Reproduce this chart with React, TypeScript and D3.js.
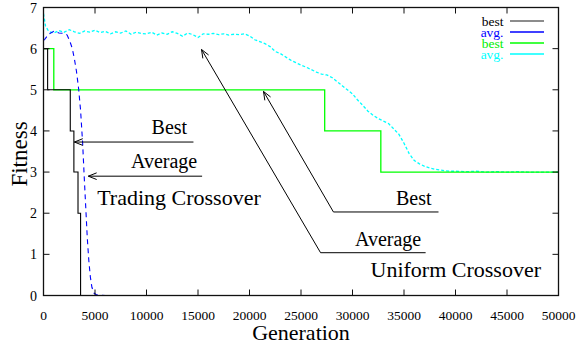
import React from 'react';
import * as d3 from 'd3';

// generation / fitness pairs
const tradingBest: [number, number][] = [
  [0, 6], [400, 5], [2600, 4], [2950, 3], [3350, 2], [3600, 0], [20000, 0],
];
const tradingAvg: [number, number][] = [
  [0, 6.2], [100, 6.22], [500, 6.35], [1000, 6.42], [1500, 6.38], [2000, 6.37],
  [2300, 6.33], [2600, 6.15], [2800, 6.0], [3000, 5.75], [3200, 5.45], [3400, 5.05],
  [3600, 4.5], [3800, 3.7], [3950, 2.9], [4100, 2.15], [4250, 1.4], [4400, 0.85],
  [4550, 0.45], [4700, 0.2], [4900, 0.06], [5200, 0.01], [6000, 0], [20000, 0],
];
const uniformBest: [number, number][] = [
  [0, 6], [1000, 5], [27300, 4], [32750, 3], [50000, 3],
];
const uniformAvg: [number, number][] = [
  [0, 6.85], [200, 6.55], [500, 6.42], [1000, 6.38], [1500, 6.44], [2000, 6.4],
  [2500, 6.46], [3000, 6.41], [3500, 6.37], [4000, 6.43], [4500, 6.4], [5000, 6.45],
  [5500, 6.39], [6000, 6.42], [6500, 6.36], [7000, 6.41], [7500, 6.38], [8000, 6.43],
  [8500, 6.35], [9000, 6.4], [9500, 6.37], [10000, 6.36], [10500, 6.4], [11000, 6.33],
  [11500, 6.38], [12000, 6.35], [12500, 6.41], [13000, 6.37], [13500, 6.3], [14000, 6.38],
  [14500, 6.34], [15000, 6.27], [15500, 6.36], [16000, 6.35], [16500, 6.37], [17000, 6.34],
  [17500, 6.36], [18000, 6.33], [18500, 6.35], [19000, 6.34], [19500, 6.36], [20000, 6.31],
  [20500, 6.22], [21000, 6.17], [21500, 6.12], [22000, 6.05], [22500, 5.93], [23000, 5.88],
  [23500, 5.8], [24000, 5.72], [24500, 5.66], [25000, 5.6], [25500, 5.55], [26000, 5.49],
  [26500, 5.43], [27000, 5.38], [27500, 5.36], [28000, 5.3], [28500, 5.2], [29000, 5.1],
  [29500, 5.0], [30000, 4.9], [30500, 4.75], [31000, 4.62], [31500, 4.48], [32000, 4.38],
  [32500, 4.3], [33000, 4.24], [33500, 4.18], [34000, 4.05], [34500, 3.92], [35000, 3.7],
  [35500, 3.45], [36000, 3.28], [36500, 3.2], [37000, 3.14], [37500, 3.1], [38000, 3.07],
  [38500, 3.05], [39000, 3.03], [39500, 3.02], [40000, 3.02], [41000, 3.01], [42000, 3.02],
  [43000, 3.0], [44000, 3.01], [45000, 3.0], [46000, 3.01], [47000, 3.0], [48000, 3.0],
  [49000, 3.0], [50000, 3.0],
];

const xTicks = [0, 5000, 10000, 15000, 20000, 25000, 30000, 35000, 40000, 45000, 50000];
const yTicks = [0, 1, 2, 3, 4, 5, 6, 7];

const legendItems = [
  { label: 'best', text: '#000', line: '#666' },
  { label: 'avg.', text: '#0000ff', line: '#0000ff' },
  { label: 'best', text: '#00ee00', line: '#00ff00' },
  { label: 'avg.', text: '#00ffff', line: '#00ffff' },
];

// annotation arrows: polyline in data coords, last point is the arrow tip
const arrows: [number, number][][] = [
  [[14560, 3.73], [3000, 3.73]],
  [[15400, 2.9], [4350, 2.9]],
  [[38350, 2.03], [28150, 2.03], [21360, 4.96]],
  [[37100, 1.04], [26900, 1.04], [15340, 5.98]],
];
const notes = [
  { text: 'Best', x: 13950, y: 3.92, anchor: 'end', size: 20 },
  { text: 'Average', x: 14920, y: 3.1, anchor: 'end', size: 20 },
  { text: 'Trading Crossover', x: 5210, y: 2.2, anchor: 'start', size: 22 },
  { text: 'Best', x: 37670, y: 2.2, anchor: 'end', size: 20 },
  { text: 'Average', x: 36670, y: 1.2, anchor: 'end', size: 20 },
  { text: 'Uniform Crossover', x: 31750, y: 0.45, anchor: 'start', size: 22 },
];

const W = 579;
const H = 349;
const font = '"Liberation Serif", "DejaVu Serif", serif';

export default function App() {
  const x = d3.scaleLinear().domain([0, 50000]).range([43.5, 558.5]);
  const y = d3.scaleLinear().domain([0, 7]).range([295.5, 7.5]);

  const step = d3.line<[number, number]>().x(d => x(d[0])).y(d => y(d[1])).curve(d3.curveStepAfter);
  const smooth = d3.line<[number, number]>().x(d => x(d[0])).y(d => y(d[1]));

  const head = (pts: [number, number][]) => {
    const [a, b] = [pts[pts.length - 2], pts[pts.length - 1]];
    const x1 = x(a[0]), y1 = y(a[1]), x2 = x(b[0]), y2 = y(b[1]);
    const ang = Math.atan2(y2 - y1, x2 - x1);
    const len = 9, spread = 0.38;
    const p1 = [x2 - len * Math.cos(ang - spread), y2 - len * Math.sin(ang - spread)];
    const p2 = [x2 - len * Math.cos(ang + spread), y2 - len * Math.sin(ang + spread)];
    return `M${p1[0]},${p1[1]}L${x2},${y2}L${p2[0]},${p2[1]}`;
  };

  const [x0, x1] = x.range();
  const [y0, y1] = y.range();

  return (
    <svg width={W} height={H} style={{ position: 'absolute', left: 0, top: 0, background: '#fff' }} fontFamily={font}>
      {/* series */}
      <path d={smooth(uniformAvg) ?? ''} fill="none" stroke="#00ffff" strokeWidth={1.3} strokeDasharray="3,2" />
      <path d={step(uniformBest) ?? ''} fill="none" stroke="#00ff00" strokeWidth={1.3} />
      <path d={smooth(tradingAvg) ?? ''} fill="none" stroke="#0000ff" strokeWidth={1.1} strokeDasharray="5,4" />
      <path d={step(tradingBest) ?? ''} fill="none" stroke="#000" strokeWidth={1.1} />

      {/* frame and ticks */}
      <rect x={x0} y={y1} width={x1 - x0} height={y0 - y1} fill="none" stroke="#111" strokeWidth={1.3} />
      {xTicks.map(t => (
        <g key={'x' + t}>
          <line x1={x(t)} x2={x(t)} y1={y0} y2={y0 - 6} stroke="#111" />
          <line x1={x(t)} x2={x(t)} y1={y1} y2={y1 + 6} stroke="#111" />
          <text x={x(t)} y={320} textAnchor="middle" fontSize={13.5}>{t}</text>
        </g>
      ))}
      {yTicks.map(t => (
        <g key={'y' + t}>
          <line x1={x0} x2={x0 + 6} y1={y(t)} y2={y(t)} stroke="#111" />
          <line x1={x1} x2={x1 - 6} y1={y(t)} y2={y(t)} stroke="#111" />
          <text x={37} y={y(t) + 5} textAnchor="end" fontSize={14}>{t}</text>
        </g>
      ))}
      <text x={(x0 + x1) / 2} y={340} textAnchor="middle" fontSize={22}>Generation</text>
      <text transform="translate(27,154) rotate(-90)" textAnchor="middle" fontSize={23}>Fitness</text>

      {/* legend */}
      {legendItems.map((d, i) => (
        <g key={'l' + i} transform={`translate(0,${21 + i * 11})`}>
          <text x={503.5} y={4.5} textAnchor="end" fontSize={13.5} fill={d.text}>{d.label}</text>
          <line x1={510} x2={544} y1={0} y2={0} stroke={d.line} strokeWidth={1.3} />
        </g>
      ))}

      {/* annotations */}
      {arrows.map((a, i) => (
        <g key={'a' + i} fill="none" stroke="#000" strokeWidth={1}>
          <path d={smooth(a) ?? ''} />
          <path d={head(a)} />
        </g>
      ))}
      {notes.map((n, i) => (
        <text key={'n' + i} x={x(n.x)} y={y(n.y)} textAnchor={n.anchor as any} fontSize={n.size}>{n.text}</text>
      ))}
    </svg>
  );
}
